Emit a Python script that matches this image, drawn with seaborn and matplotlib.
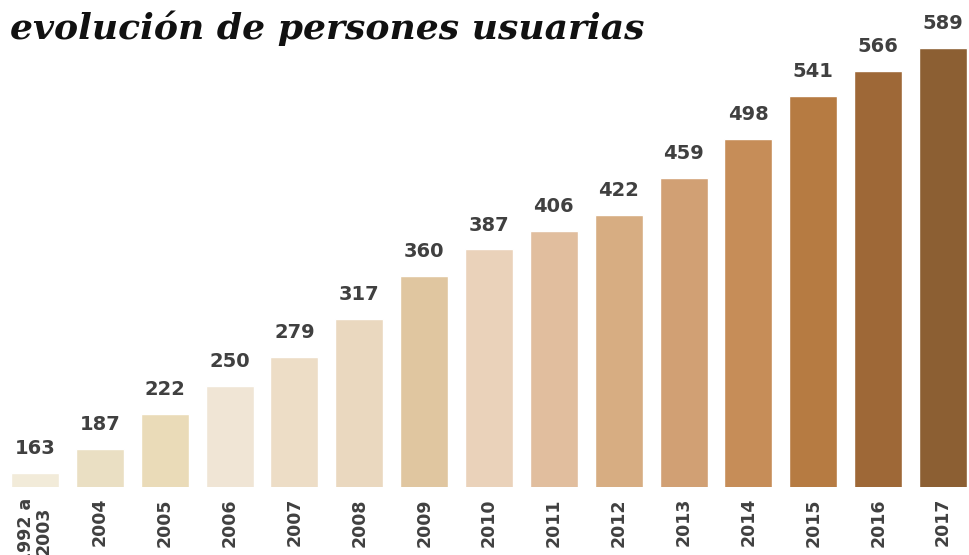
import matplotlib
matplotlib.use("Agg")
import matplotlib.pyplot as plt
import seaborn as sns
import pandas as pd

# data
years = ["1992 a\n2003", "2004", "2005", "2006", "2007", "2008", "2009", "2010",
         "2011", "2012", "2013", "2014", "2015", "2016", "2017"]
users = [163, 187, 222, 250, 279, 317, 360, 387, 406, 422, 459, 498, 541, 566, 589]
colors = ["#F2EBD9", "#EADFC3", "#EADBB8", "#F0E5D5", "#EDDDC6", "#EAD8BF",
          "#E0C6A0", "#EAD2BA", "#E1BE9E", "#D7AD82", "#D1A074", "#C68D58",
          "#B67B42", "#9E6837", "#8C5F33"]
title = "evolución de persones usuarias"

df = pd.DataFrame({"year": years, "users": users})

sns.set_style("white")
plt.rcParams["font.family"] = ["DejaVu Sans"]

fig = plt.figure(figsize=(9.7, 5.55), dpi=100)
ax = fig.add_axes([0, 1 - 487 / 555, 1, 487 / 555])

sns.barplot(data=df, x="year", y="users", hue="year", palette=colors,
            width=0.74, legend=False, saturation=1, ax=ax)

ax.set_xlim(-35 / 65, (972 - 35) / 65)
ax.set_ylim(149, 149 + 487 / 0.998)

for i, v in enumerate(users):
    ax.text(i, v + 15, str(v), ha="center", va="bottom",
            fontsize=14, fontweight="bold", color="#404040")

ax.set_xlabel("")
ax.set_ylabel("")
ax.set_yticks([])
ax.tick_params(axis="x", length=0, pad=8)
for lab in ax.get_xticklabels():
    lab.set_rotation(90)
    lab.set_fontweight("bold")
    lab.set_fontsize(12.5)
    lab.set_color("#404040")
    lab.set_va("top")
    lab.set_ha("center")
    lab.set_linespacing(0.95)
sns.despine(ax=ax, left=True, bottom=True)

fig.text(0.01, 0.95, title, ha="left", va="center", fontsize=26,
         fontweight="bold", fontstyle="italic", family=["DejaVu Serif"],
         color="#111111")

fig.savefig("out.png", dpi=100)
